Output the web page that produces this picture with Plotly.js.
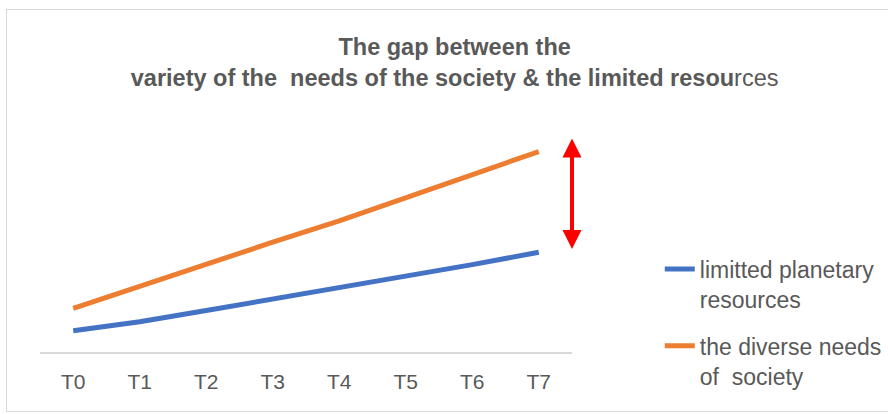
<!DOCTYPE html>
<html>
<head>
<meta charset="utf-8">
<script src="https://cdn.plot.ly/plotly-3.0.1.min.js"></script>
<style>
  html, body { margin: 0; padding: 0; background: #ffffff; }
  #frame { position: absolute; left: 6px; top: 9px; width: 900px; height: 403px; border: 1.5px solid #d9d9d9; box-sizing: border-box; }
  #chart { position: absolute; left: 0; top: 0; width: 888px; height: 414px; }
</style>
</head>
<body>
<div id="frame"></div>
<div id="chart"></div>
<script>
// ---- data ----
var categories = ['T0', 'T1', 'T2', 'T3', 'T4', 'T5', 'T6', 'T7'];
var resources = [1.9, 2.7, 3.7, 4.7, 5.7, 6.8, 7.8, 8.9];
var needs = [3.9, 5.9, 7.9, 9.8, 11.7, 13.8, 15.9, 17.9];
var seriesNames = ['limitted planetary<br>resources', 'the diverse needs<br>of  society'];
var gapTop = 19.2;
var gapBottom = 9.2;

var FONT = 'Liberation Sans, Arial, sans-serif';
var GREY = '#595959';

var traces = [
  { x: categories, y: resources, name: seriesNames[0], type: 'scatter', mode: 'lines',
    line: { color: '#4472C4', width: 5 }, legendgroup: 'a' },
  { x: categories, y: needs, name: seriesNames[1], type: 'scatter', mode: 'lines',
    line: { color: '#ED7D31', width: 5 }, legendgroup: 'b' }
];

var layout = {
  width: 888, height: 414,
  paper_bgcolor: 'rgba(0,0,0,0)', plot_bgcolor: 'rgba(0,0,0,0)',
  margin: { l: 40, r: 316, t: 128, b: 62, autoexpand: false },
  font: { family: FONT, color: GREY },
  title: {
    text: '<b>The gap between the</b><br><b>variety of the  needs of the society &amp; the limited resou</b>rces',
    font: { family: FONT, size: 23.5, color: GREY },
    x: 0.512, xanchor: 'center', xref: 'container',
    y: 1 - 55 / 414, yanchor: 'top', yref: 'container'
  },
  xaxis: {
    type: 'category', range: [-0.5, 7.5], showgrid: false, zeroline: false,
    showline: true, linecolor: '#d9d9d9', linewidth: 2,
    ticks: '', ticklabelstandoff: 10,
    tickfont: { family: FONT, size: 21, color: GREY }
  },
  yaxis: { range: [0, 20], showgrid: false, zeroline: false, showticklabels: false, showline: false },
  showlegend: true,
  legend: {
    x: 1.165, xanchor: 'left', y: 0.466, yanchor: 'top',
    font: { family: FONT, size: 23, color: GREY },
    valign: 'top', tracegroupgap: 14, bgcolor: 'rgba(0,0,0,0)'
  },
  annotations: [{
    x: 7.5, y: gapBottom, ax: 7.5, ay: gapTop, xref: 'x', yref: 'y', axref: 'x', ayref: 'y',
    text: '', showarrow: true, arrowside: 'end+start', arrowhead: 2, startarrowhead: 2,
    arrowwidth: 4, arrowsize: 0.95, startarrowsize: 0.95, arrowcolor: '#ff0000'
  }]
};

Plotly.newPlot('chart', traces, layout, { displayModeBar: false, staticPlot: true });
</script>
</body>
</html>
